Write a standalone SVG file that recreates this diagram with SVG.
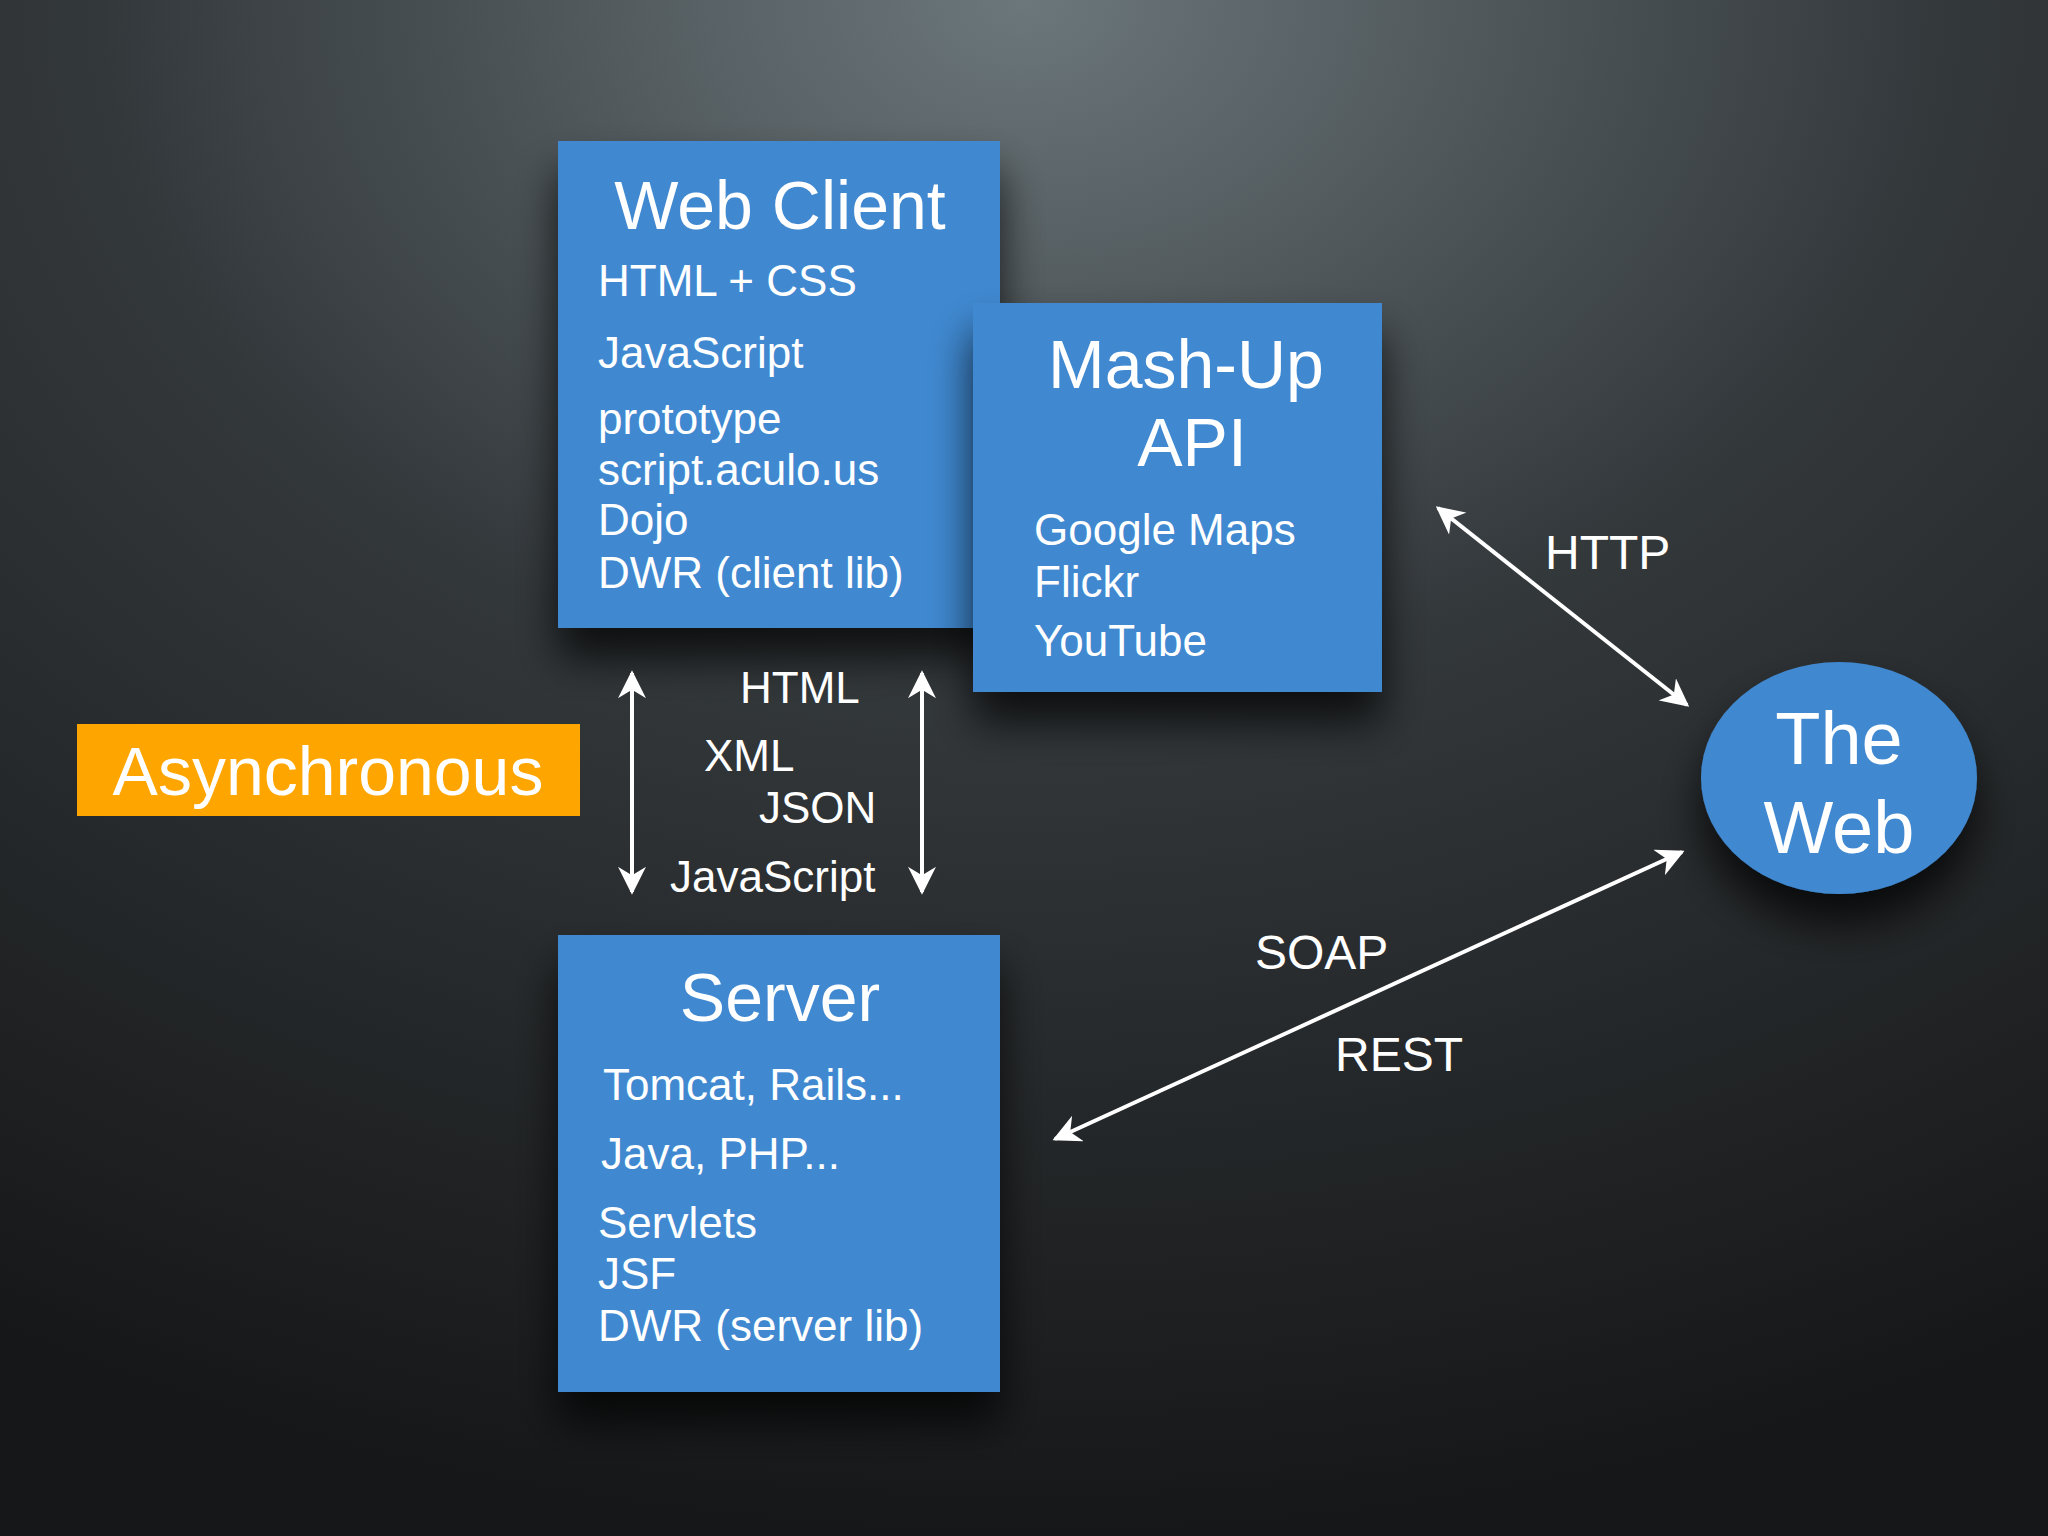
<svg xmlns="http://www.w3.org/2000/svg" width="2048" height="1536" viewBox="0 0 2048 1536">
<defs>
<radialGradient id="bg" cx="0.5" cy="0" r="1.0" fx="0.5" fy="0">
<stop offset="0" stop-color="#6c777b"/><stop offset="0.45" stop-color="#33383b"/><stop offset="1" stop-color="#161718"/>
</radialGradient>
<filter id="sh" x="-20%" y="-20%" width="150%" height="150%"><feDropShadow dx="0" dy="30" stdDeviation="22" flood-color="#000" flood-opacity="0.75"/></filter>
<marker id="ah" viewBox="0 0 10 10" refX="9" refY="5" markerWidth="7" markerHeight="7" orient="auto-start-reverse"><path d="M0,0 L10,5 L0,10 L3,5 z" fill="#fff"/></marker>
<style>
text{font-family:"Liberation Sans",Arial,sans-serif;fill:#fff}
.t{font-size:68px;text-anchor:middle}
.s{font-size:44px}
.box{fill:#4189d1}
.c{stroke:#fff;stroke-width:4;fill:none;marker-start:url(#ah);marker-end:url(#ah)}
</style>
</defs>
<rect width="2048" height="1536" fill="url(#bg)"/>
<g id="webclient"><rect class="box" x="558" y="141" width="442" height="487" filter="url(#sh)"/>
<text class="t" x="780" y="229">Web Client</text>
<text class="s" x="598" y="296">HTML + CSS</text>
<text class="s" x="598" y="368">JavaScript</text>
<text class="s" x="598" y="434">prototype</text>
<text class="s" x="598" y="485">script.aculo.us</text>
<text class="s" x="598" y="535">Dojo</text>
<text class="s" x="598" y="588">DWR (client lib)</text></g>
<g id="mashup"><rect class="box" x="973" y="303" width="409" height="389" filter="url(#sh)"/>
<text class="t" x="1186" y="388">Mash-Up</text>
<text class="t" x="1192" y="466">API</text>
<text class="s" x="1034" y="545">Google Maps</text>
<text class="s" x="1034" y="597">Flickr</text>
<text class="s" x="1034" y="656">YouTube</text></g>
<g id="server"><rect class="box" x="558" y="935" width="442" height="457" filter="url(#sh)"/>
<text class="t" x="780" y="1021">Server</text>
<text class="s" x="603" y="1100">Tomcat, Rails...</text>
<text class="s" x="601" y="1169">Java, PHP...</text>
<text class="s" x="598" y="1238">Servlets</text>
<text class="s" x="598" y="1289">JSF</text>
<text class="s" x="598" y="1341">DWR (server lib)</text></g>
<g id="async"><rect x="77" y="724" width="503" height="92" fill="#fea500"/>
<text class="t" x="328" y="795">Asynchronous</text></g>
<g id="web"><ellipse cx="1839" cy="778" rx="138" ry="116" fill="#4189d1" filter="url(#sh)"/>
<text class="t" x="1839" y="764" style="font-size:74px">The</text>
<text class="t" x="1839" y="853" style="font-size:74px">Web</text></g>
<g id="connectors">
<line class="c" x1="632" y1="673" x2="632" y2="892"/>
<line class="c" x1="922" y1="673" x2="922" y2="892"/>
<line class="c" x1="1438" y1="508" x2="1687" y2="705"/>
<line class="c" x1="1682" y1="852" x2="1055" y2="1139"/>
<text class="s" x="740" y="703">HTML</text>
<text class="s" x="704" y="771">XML</text>
<text class="s" x="759" y="823">JSON</text>
<text class="s" x="670" y="892">JavaScript</text>
<text class="s" x="1545" y="569" style="font-size:48px">HTTP</text>
<text class="s" x="1255" y="969" style="font-size:48px">SOAP</text>
<text class="s" x="1335" y="1071" style="font-size:48px">REST</text>
</g>
</svg>
